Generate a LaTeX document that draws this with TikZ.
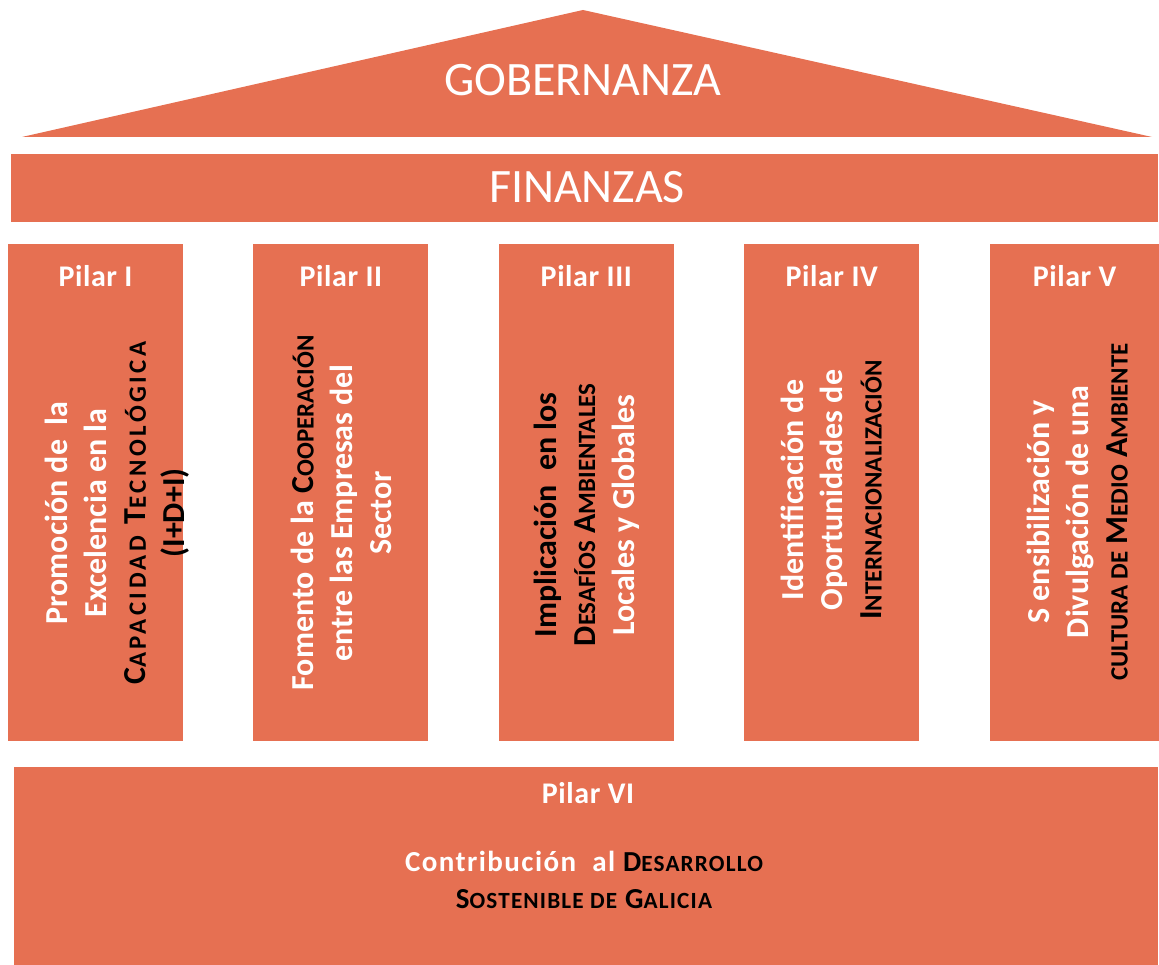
\documentclass[tikz,border=0pt]{standalone}
\usepackage{fontspec}
\setmainfont{Carlito}
\usepackage{relsize}
\usepackage{tikz}
\usetikzlibrary{positioning}
\definecolor{teja}{RGB}{230,112,82}
\newcommand{\pq}[1]{\textscale{.8}{#1}}
\newcommand{\oscuro}[1]{{\color{black}#1}}

\begin{document}
\begin{tikzpicture}[x=1pt,y=1pt,
bloque/.style={rectangle, fill=teja, inner sep=0pt},
pilar/.style={bloque, minimum width=175pt, minimum height=497pt},
cabecera/.style={white, anchor=base, font=\fontsize{48}{58}\selectfont},
titulo/.style={white, anchor=base, font=\fontsize{30}{36}\selectfont\bfseries\addfontfeature{LetterSpace=2}},
texto/.style={white, rotate=90, align=center, inner sep=0pt, font=\fontsize{32}{39}\selectfont\bfseries},
base/.style={white, align=center, inner sep=0pt, font=\fontsize{29}{37}\selectfont\bfseries\addfontfeature{LetterSpace=5}},
node distance=70pt]
\useasboundingbox (0,0) rectangle (1159,965);
% tejado y friso
\fill [teja] (22,828) -- (583,955) -- (1152,828) -- cycle;
\node (gob) at (583,869) [cabecera] {GOBERNANZA};
\node (fin) at (584.5,777) [bloque, minimum width=1147pt, minimum height=68pt] {};
\node (fint) at (587,762) [cabecera] {FINANZAS};
% pilares
\node (p1) at (95.5,472.5) [pilar] {};
\node (p2) [pilar, right=of p1] {};
\node (p3) [pilar, right=of p2] {};
\node (p4) [pilar, right=of p3] {};
\node (p5) [pilar, right=of p4, minimum width=170pt] {};
\node (t1) at ([yshift=-43pt]p1.north) [titulo] {Pilar I};
\node (t2) at ([yshift=-43pt]p2.north) [titulo] {Pilar II};
\node (t3) at ([yshift=-43pt]p3.north) [titulo] {Pilar III};
\node (t4) at ([yshift=-43pt]p4.north) [titulo] {Pilar IV};
\node (t5) at ([yshift=-43pt]p5.north) [titulo] {Pilar V};
\node (x1) at (117.5,452) [texto] {Promoción de~ la\\ Excelencia en la\\
  \oscuro{\addfontfeature{LetterSpace=14}C\pq{APACIDAD} T\pq{ECNOLÓGICA}}\\ \oscuro{(I+D+I)}};
\node (x2) at (341.5,452) [texto] {Fomento de la \oscuro{C\pq{OOPERACIÓN}}\\ entre las Empresas del\\ Sector};
\node (x3) at (586.5,450) [texto] {\oscuro{Implicación~ en los}\\ \oscuro{D\pq{ESAFÍOS} A\pq{MBIENTALES}}\\ Locales y Globales};
\node (x4) at (831.5,475) [texto] {Identificación de\\ Oportunidades de\\ \oscuro{I\pq{NTERNACIONALIZACIÓN}}};
\node (x5) at (1077.5,453) [texto] {S ensibilización y\\ Divulgación de una\\ \oscuro{\pq{CULTURA DE} M\pq{EDIO} A\pq{MBIENTE}}};
% base
\node (p6) at (586,99) [bloque, minimum width=1144pt, minimum height=198pt] {};
\node (t6) at (588,161) [titulo] {Pilar VI};
\node (x6) at (584,85) [base] {Contribución~ al \oscuro{D\pq{ESARROLLO}}\\ \oscuro{S\pq{OSTENIBLE DE} G\pq{ALICIA}}};
\end{tikzpicture}
\end{document}
